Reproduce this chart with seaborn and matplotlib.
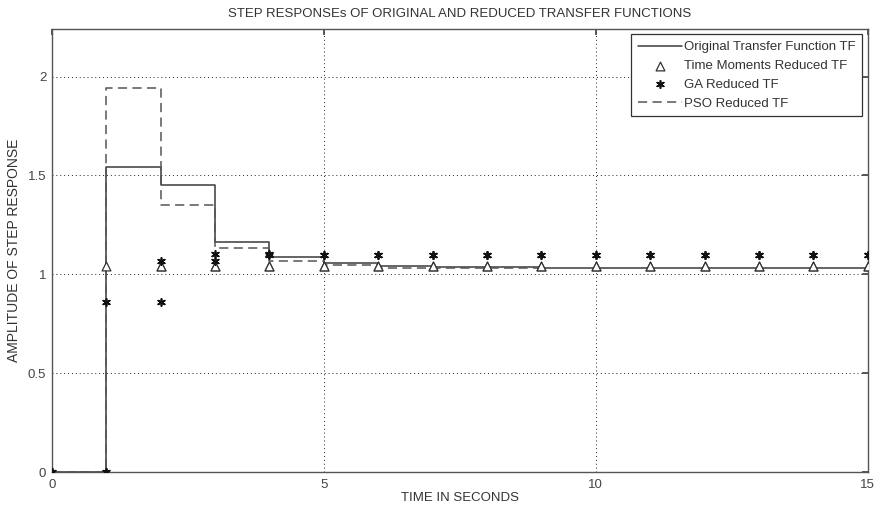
import seaborn as sns
import matplotlib.pyplot as plt
import pandas as pd

# sampled step responses, one value per second (held until next sample)
time = [0, 1, 2, 3, 4, 5, 6, 7, 8, 9, 10, 11, 12, 13, 14, 15]
original_tf = [0, 1.544, 1.453, 1.163, 1.087, 1.055, 1.042, 1.037,
               1.035, 1.034, 1.033, 1.033, 1.033, 1.033, 1.033, 1.033]
time_moments_tf = [0, 1.04, 1.04, 1.04, 1.04, 1.04, 1.04, 1.04,
                   1.04, 1.04, 1.04, 1.04, 1.04, 1.04, 1.04, 1.04]
ga_tf = [0, 0.86, 1.07, 1.105, 1.10, 1.10, 1.10, 1.10,
         1.10, 1.10, 1.10, 1.10, 1.10, 1.10, 1.10, 1.10]
pso_time = [0, 1, 2, 3, 4, 5, 6, 7, 8, 9]
pso_tf = [0, 1.943, 1.352, 1.133, 1.065, 1.045, 1.032, 1.031, 1.031, 1.031]

x_ticks = [0, 5, 10, 15]
y_ticks = [0, 0.5, 1, 1.5, 2]
y_tick_labels = ["0", "0.5", "1", "1.5", "2"]


def stair_vertices(t, y):
    # corner points of a zero-order-hold staircase (where the markers sit)
    xs, ys = [t[0]], [y[0]]
    for i in range(1, len(t)):
        xs += [t[i], t[i]]
        ys += [y[i - 1], y[i]]
    return pd.DataFrame({"t": xs, "y": ys})


def plot_step_responses():
    fig = plt.figure(figsize=(8.8, 5.12), dpi=100)
    ax = fig.add_axes([0.059, 0.078, 0.927, 0.865])

    sns.lineplot(x=time, y=original_tf, drawstyle="steps-post", color="#3a3a3a",
                 linewidth=1.1, label="Original Transfer Function TF", ax=ax, zorder=3)

    tm = stair_vertices(time, time_moments_tf)
    sns.scatterplot(data=tm, x="t", y="y", marker="^", s=40, facecolor="white",
                    edgecolor="#333333", linewidth=0.9,
                    label="Time Moments Reduced TF", ax=ax, zorder=4)

    ga = stair_vertices(time, ga_tf)
    sns.scatterplot(data=ga, x="t", y="y", marker=(6, 2, 0), s=28,
                    color="#111111", edgecolor="#111111", linewidth=1.2,
                    label="GA Reduced TF", ax=ax, zorder=5)

    sns.lineplot(x=pso_time, y=pso_tf, drawstyle="steps-post", color="#555555",
                 linewidth=1.1, linestyle=(0, (6, 3.5)), label="PSO Reduced TF",
                 ax=ax, zorder=3)

    ax.set_xlim(0, 15)
    ax.set_ylim(0, 2.24)
    ax.set_xticks(x_ticks)
    ax.set_yticks(y_ticks)
    ax.set_yticklabels(y_tick_labels)
    ax.grid(True, linestyle=(0, (1, 3)), color="#222222", linewidth=0.7)
    ax.tick_params(direction="in", length=4, colors="#444444", labelsize=9.5,
                   top=True, right=True)
    ax.tick_params(axis="x", pad=5)
    ax.tick_params(axis="y", pad=4)
    for s in ax.spines.values():
        s.set_color("#555555")
        s.set_linewidth(1.0)

    ax.set_title("STEP RESPONSEs OF ORIGINAL AND REDUCED TRANSFER FUNCTIONS",
                 fontsize=9.5, color="#333333", pad=9)
    ax.set_xlabel("TIME IN SECONDS", fontsize=9.5, color="#333333", labelpad=1)
    ax.set_ylabel("AMPLITUDE OF STEP RESPONSE", fontsize=10, color="#333333", labelpad=5)

    leg = ax.legend(loc="upper right", fontsize=9.5, frameon=True, fancybox=False,
                    framealpha=1, edgecolor="#333333", borderaxespad=0.4,
                    handlelength=3.3, handletextpad=0.2, labelspacing=0.5,
                    borderpad=0.5)
    leg.get_frame().set_linewidth(0.9)
    for txt in leg.get_texts():
        txt.set_color("#333333")

    fig.savefig("out.png", dpi=100)


if __name__ == '__main__':
    sns.set_theme()
    sns.set_style("white")
    plt.rcParams["font.family"] = ["Liberation Sans", "DejaVu Sans"]
    plot_step_responses()
